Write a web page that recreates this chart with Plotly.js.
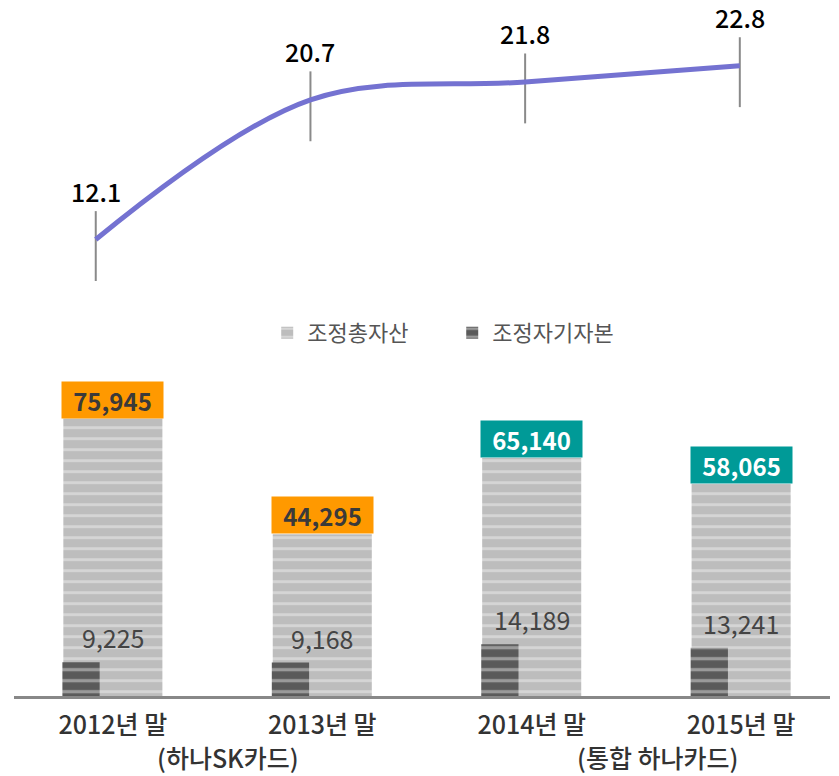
<!DOCTYPE html>
<html>
<head>
<meta charset="utf-8">
<script src="https://cdn.plot.ly/plotly-3.0.1.min.js"></script>
<style>html,body{margin:0;padding:0;background:#fff;}#chart{width:839px;height:776px;}</style>
</head>
<body>
<div id="chart"></div>
<script>
// ---- data ----
const categories = ['2012년 말', '2013년 말', '2014년 말', '2015년 말'];
const subLabels = ['(하나SK카드)', '(통합 하나카드)'];
const ratio = [12.1, 20.7, 21.8, 22.8];
const totalAssets = [75945, 44295, 65140, 58065];
const equity = [9225, 9168, 14189, 13241];
const seriesNames = ['조정총자산', '조정자기자본'];

// ---- style ----
const FONT = '"Noto Sans CJK KR", "Noto Sans", sans-serif';
const boxColors = ['#ff9900', '#ff9900', '#009a97', '#009a97'];
const boxTextColors = ['#3a3a3a', '#3a3a3a', '#ffffff', '#ffffff'];
const fmt = v => v.toLocaleString('en-US');

const traces = [
  {
    type: 'bar', name: seriesNames[0], x: categories, y: totalAssets,
    xaxis: 'x', yaxis: 'y', width: 0.473, offset: -0.2365,
    marker: { color: '#bdbdbd', line: { width: 0 },
      pattern: { shape: '-', size: 11, solidity: 0.25, fgcolor: '#f0f0f0', bgcolor: '#bdbdbd', fillmode: 'overlay' } },
    hoverinfo: 'skip'
  },
  {
    type: 'bar', name: seriesNames[1], x: categories, y: equity,
    xaxis: 'x', yaxis: 'y', width: 0.178, offset: -0.241,
    marker: { color: '#5a5a5a', line: { width: 0 },
      pattern: { shape: '-', size: 11, solidity: 0.3, fgcolor: '#dadada', bgcolor: '#5a5a5a', fillmode: 'overlay' } },
    hoverinfo: 'skip'
  },
  {
    type: 'scatter', mode: 'lines', x: categories, y: ratio,
    xaxis: 'x2', yaxis: 'y2', showlegend: false, hoverinfo: 'skip',
    line: { color: '#7472d1', width: 5, shape: 'spline', smoothing: 1 },
    error_y: { type: 'constant', symmetric: false, value: 1.75, valueminus: 2.55,
      width: 0, thickness: 2, color: '#8a8a8a' }
  }
];

const annotations = [];
categories.forEach((c, i) => {
  annotations.push({
    xref: 'x', yref: 'y', x: c, y: totalAssets[i], yanchor: 'bottom', xanchor: 'center',
    text: '<b>' + fmt(totalAssets[i]) + '</b>', showarrow: false,
    bgcolor: boxColors[i], width: 101, height: 36, borderpad: 0, yshift: 0,
    font: { family: FONT, size: 24, color: boxTextColors[i] }
  });
  annotations.push({
    xref: 'x', yref: 'y', x: c, y: equity[i], yanchor: 'bottom', xanchor: 'center',
    text: fmt(equity[i]), showarrow: false, yshift: 5,
    font: { family: FONT, size: 25, color: '#444444' }
  });
  annotations.push({
    xref: 'x2', yref: 'y2', x: c, y: ratio[i], yanchor: 'bottom', xanchor: 'center',
    text: ratio[i].toFixed(1), showarrow: false, yshift: 29,
    font: { family: FONT, size: 25, color: '#000000', weight: 500 }
  });
});
subLabels.forEach((t, j) => {
  annotations.push({
    xref: 'x', yref: 'paper', x: j === 0 ? 0.55 : 2.6, y: -0.088, yanchor: 'middle', xanchor: 'center',
    text: t, showarrow: false,
    font: { family: FONT, size: 25, color: '#333333', weight: 500 }
  });
});

const layout = {
  width: 839, height: 776,
  margin: { l: 0, r: 0, t: 0, b: 80 },
  paper_bgcolor: '#ffffff', plot_bgcolor: 'rgba(0,0,0,0)',
  font: { family: FONT, color: '#333333' },
  barmode: 'overlay',
  showlegend: true,
  legend: {
    orientation: 'h', x: 0.539, xanchor: 'center', y: 0.5216, yanchor: 'middle',
    font: { family: FONT, size: 22, color: '#555555' }, itemwidth: 30, bgcolor: 'rgba(0,0,0,0)',
    entrywidth: 140, entrywidthmode: 'pixels'
  },
  xaxis: {
    domain: [0.0167, 0.9893], range: [-0.472, 3.4245], type: 'category',
    showgrid: false, zeroline: false, showline: true, linecolor: '#888888', linewidth: 3,
    ticks: '', tickfont: { family: FONT, size: 25, color: '#333333', weight: 500 },
    ticklabelstandoff: 5,
    tickvals: categories, ticktext: categories
  },
  yaxis: {
    domain: [0, 0.4408], range: [0, 84000], showgrid: false, zeroline: false,
    showticklabels: false, showline: false
  },
  xaxis2: {
    domain: [0, 1], range: [-0.446, 3.462], type: 'category', anchor: 'y2',
    showgrid: false, zeroline: false, showticklabels: false, showline: false, ticks: ''
  },
  yaxis2: {
    domain: [0.55, 1], range: [7.568, 26.842], anchor: 'x2',
    showgrid: false, zeroline: false, showticklabels: false, showline: false
  },
  annotations: annotations
};

Plotly.newPlot('chart', traces, layout, { staticPlot: true, displayModeBar: false });
</script>
</body>
</html>
